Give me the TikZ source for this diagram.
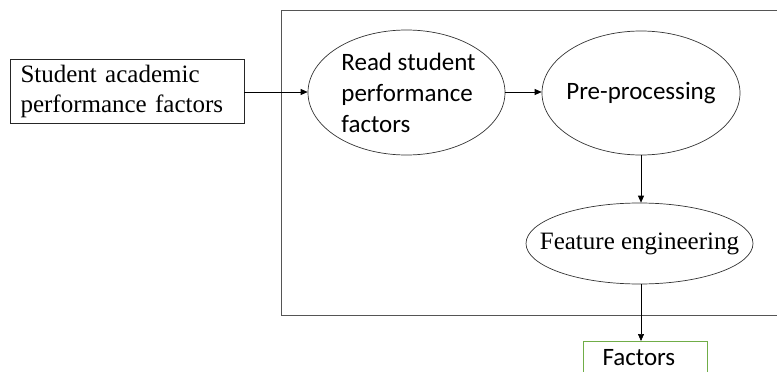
\documentclass[tikz,border=0pt]{standalone}
\usepackage{fontspec}
\setmainfont{Liberation Serif}
\newfontfamily\calibrifont{Carlito}
\usetikzlibrary{shapes.geometric,arrows.meta}
\definecolor{boxgreen}{RGB}{112,173,71}
\definecolor{framegray}{RGB}{85,85,85}
\tikzset{
  serifbox/.style={draw=black!85, line width=0.8pt, rectangle, font=\fontsize{25}{30}\selectfont},
  procell/.style={draw=black!80, line width=0.7pt, ellipse, inner sep=0pt},
  calfont/.style={font=\calibrifont\fontsize{25}{31}\selectfont},
  serfont/.style={font=\fontsize{25}{30}\selectfont},
  conn/.style={draw=black, line width=0.7pt, -{Triangle[length=7pt,width=6pt]}},
  outbox/.style={draw=boxgreen, line width=1pt, rectangle}
}
\begin{document}
\begin{tikzpicture}[x=1pt,y=-1pt]
\useasboundingbox (0,0) rectangle (777,372);
\clip (0,0) rectangle (777,372);
% frame
\draw[framegray, line width=0.8pt] (281,10) rectangle (800,315);
% nodes
\node[serifbox, align=left, text width=213pt, inner xsep=10.5pt, inner ysep=0pt, minimum height=64pt, minimum width=234pt] (src) at (127,91)
  {Student academic\\performance factors};
\node[procell, calfont, align=left, minimum width=197pt, minimum height=125pt] (read) at (406.5,92.5)
  {\hspace*{4pt}Read student\\\hspace*{4pt}performance\\\hspace*{4pt}factors};
\node[procell, calfont, minimum width=198pt, minimum height=124pt] (pre) at (641,93)
  {\makebox[0pt]{Pre-processing}};
\node[procell, serfont, minimum width=227pt, minimum height=81pt] (feat) at (639.5,243.5)
  {\makebox[0pt]{Feature engineering}};
\node[outbox, calfont, anchor=north west, text width=86pt, inner xsep=19pt, inner ysep=8pt, align=left, minimum width=124pt] (fac) at (583,341)
  {Factors};
% connectors
\draw[conn] (src.east |- 0,92) -- (read.west |- 0,92);
\draw[conn] (read.east |- 0,92) -- (pre.west |- 0,92);
\draw[conn] (pre.south -| 641,0) -- (feat.north -| 641,0);
\draw[conn] (feat.south -| 641,0) -- (fac.north -| 641,0);
\end{tikzpicture}
\end{document}
